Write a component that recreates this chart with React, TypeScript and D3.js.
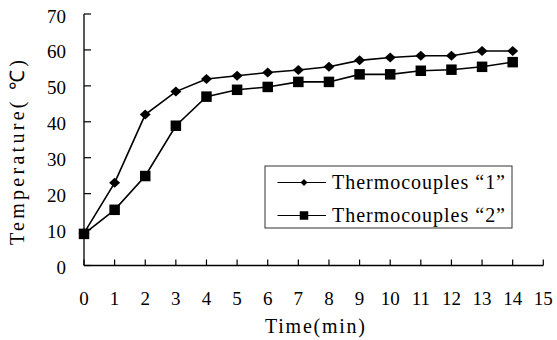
import { useEffect } from "react";
import * as d3 from "d3";

const times = [0, 1, 2, 3, 4, 5, 6, 7, 8, 9, 10, 11, 12, 13, 14];
const tc1 = [9, 23, 42, 48.4, 51.9, 52.8, 53.7, 54.4, 55.3, 57.1, 57.9, 58.4, 58.4, 59.7, 59.7];
const tc2 = [8.8, 15.5, 24.9, 38.9, 47, 48.9, 49.7, 51.1, 51.1, 53.2, 53.2, 54.2, 54.5, 55.3, 56.6];
const xTicks = d3.range(0, 16);
const yTicks = [0, 10, 20, 30, 40, 50, 60, 70];
const seriesNames = ["Thermocouples \u201c1\u201d", "Thermocouples \u201c2\u201d"];

const W = 557;
const H = 340;
const FONT = `"Liberation Serif"`;

function Diamond({ x, y, w, h }: { x: number; y: number; w: number; h: number }) {
  return (
    <path
      d={`M${x},${y - h / 2}L${x + w / 2},${y}L${x},${y + h / 2}L${x - w / 2},${y}Z`}
      fill="#000"
    />
  );
}

function Square({ x, y, s }: { x: number; y: number; s: number }) {
  return <rect x={x - s / 2} y={y - s / 2} width={s} height={s} fill="#000" />;
}

export default function App() {
  useEffect(() => {
    document.body.style.margin = "0";
  }, []);

  const x = d3.scaleLinear().domain([0, 15]).range([84, 543.3]);
  const y = d3.scaleLinear().domain([0, 70]).range([265.5, 14]);

  const line = d3
    .line<number>()
    .x((_, i) => x(times[i]))
    .y((d) => y(d));

  // legend box and rows
  const lg = { x: 265, y: 166, w: 247, h: 62 };
  const rows = [182.5, 215.5];

  return (
    <svg width={W} height={H} style={{ display: "block" }}>
      {/* axes */}
      <line x1={x(0)} x2={x(0)} y1={y(70)} y2={y(0)} stroke="#000" strokeWidth={1.3} />
      <line x1={x(0)} x2={x(15)} y1={y(0)} y2={y(0)} stroke="#000" strokeWidth={1.3} />

      {yTicks.map((t) => (
        <g key={`y${t}`}>
          <line x1={x(0)} x2={x(0) + 7} y1={y(t)} y2={y(t)} stroke="#000" strokeWidth={1.2} />
          <text x={66} y={y(t) + 8.5} textAnchor="end" fontSize={19} style={{ fontFamily: FONT }}>
            {String(t)}
          </text>
        </g>
      ))}

      {xTicks.map((t) => (
        <g key={`x${t}`}>
          <line x1={x(t)} x2={x(t)} y1={y(0)} y2={y(0) - 6} stroke="#000" strokeWidth={1.2} />
          <text x={x(t)} y={304.5} textAnchor="middle" fontSize={19} style={{ fontFamily: FONT }}>
            {String(t)}
          </text>
        </g>
      ))}

      {/* axis titles */}
      <text x={265} y={333} fontSize={20} textLength={100} lengthAdjust="spacing" style={{ fontFamily: FONT }}>
        Time(min)
      </text>
      <text
        transform="translate(24,245) rotate(-90)"
        fontSize={20}
        textLength={185}
        lengthAdjust="spacing"
        style={{ fontFamily: FONT }}
      >
        Temperature( ℃)
      </text>

      {/* series */}
      <path d={line(tc1) ?? ""} fill="none" stroke="#000" strokeWidth={1.6} />
      <path d={line(tc2) ?? ""} fill="none" stroke="#000" strokeWidth={1.6} />
      {tc1.map((v, i) => (
        <Diamond key={`d${i}`} x={x(times[i])} y={y(v)} w={11} h={10} />
      ))}
      {tc2.map((v, i) => (
        <Square key={`s${i}`} x={x(times[i])} y={y(v)} s={10.5} />
      ))}

      {/* legend */}
      <rect x={lg.x} y={lg.y} width={lg.w} height={lg.h} fill="#fff" stroke="#333" strokeWidth={1} />
      {seriesNames.map((name, i) => (
        <g key={name}>
          <line x1={277.5} x2={326} y1={rows[i]} y2={rows[i]} stroke="#000" strokeWidth={1.2} />
          {i === 0 ? (
            <Diamond x={304} y={rows[i]} w={7} h={7} />
          ) : (
            <Square x={304} y={rows[i]} s={8.5} />
          )}
          <text x={332} y={rows[i] + 6.5} fontSize={20} textLength={173} lengthAdjust="spacing" style={{ fontFamily: FONT }}>
            {name}
          </text>
        </g>
      ))}
    </svg>
  );
}
